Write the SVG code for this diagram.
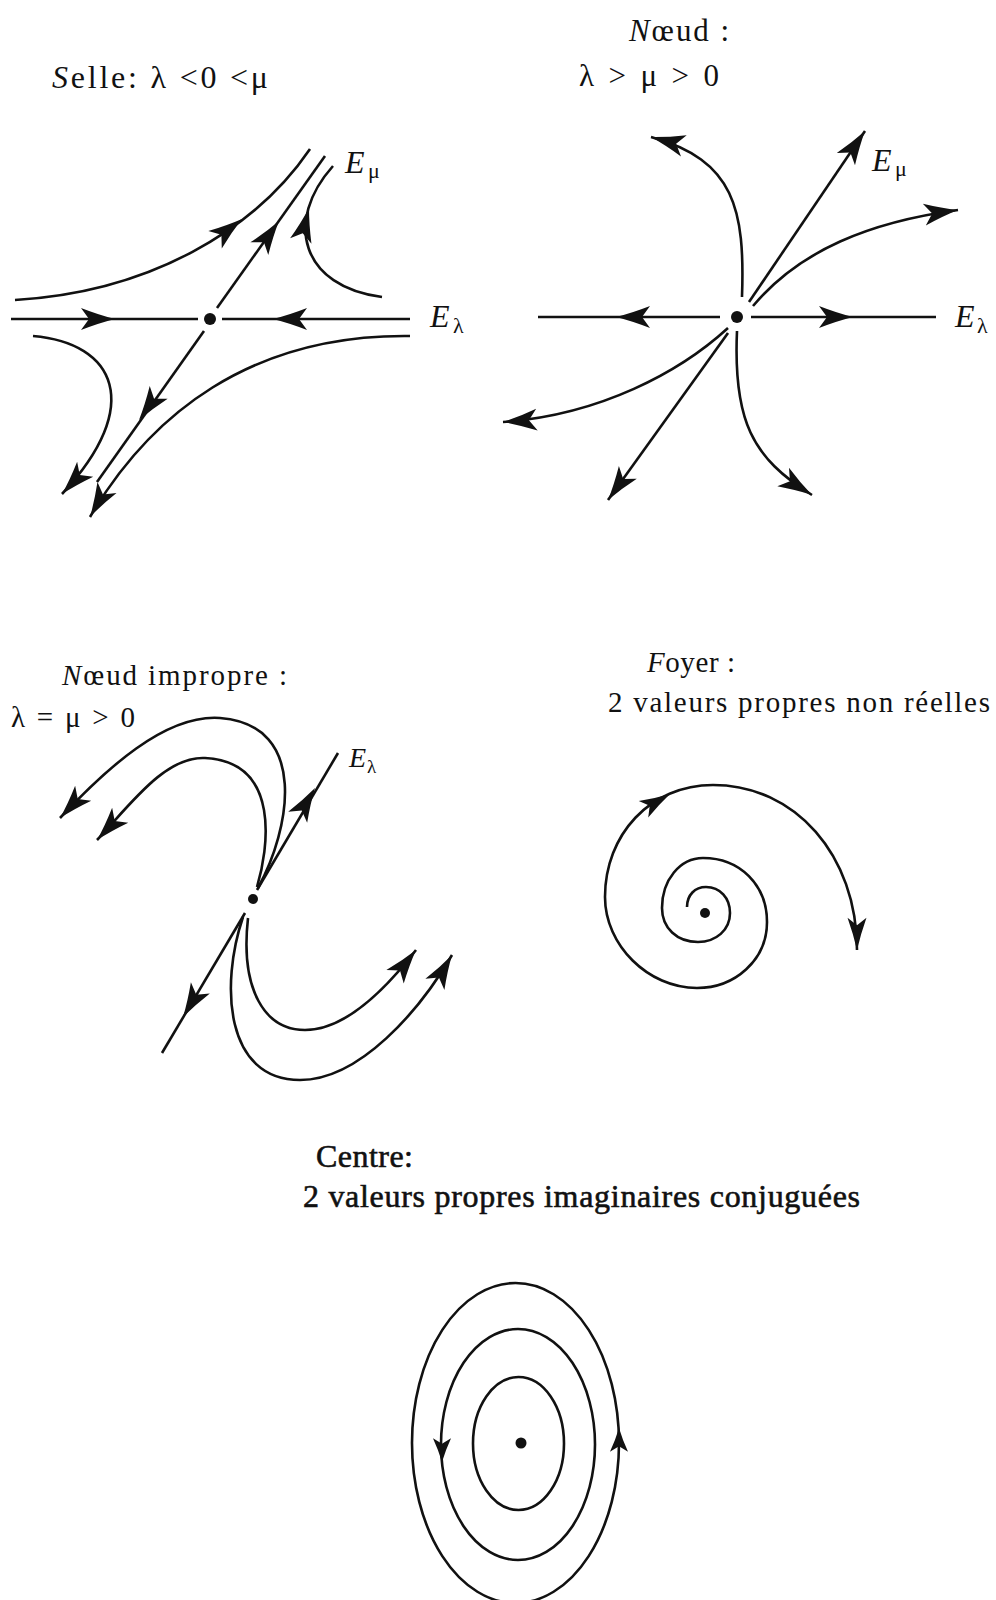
<svg xmlns="http://www.w3.org/2000/svg" xmlns:xlink="http://www.w3.org/1999/xlink" width="996" height="1600" viewBox="0 0 996 1600">
<style>
.ln{fill:none;stroke:#111;stroke-width:2.6}
.ah{fill:#111;stroke:none}
.dot{fill:#111}
.t{font-family:"Liberation Serif","Times New Roman",serif;fill:#111}
.it{font-style:italic}
.bd{stroke:#111;stroke-width:0.6}
</style>
<defs>
<path id="ah" d="M0,0 Q-16,-4 -34,-11 L-26,0 L-34,11 Q-16,4 0,0 Z"/>
</defs>
<rect width="996" height="1600" fill="#fff"/>

<g id="selle">
<text class="t" font-size="32" x="52" y="88" textLength="216" lengthAdjust="spacing"><tspan class="it">S</tspan>elle: λ &lt;0 &lt;μ</text>
<text class="t" y="173"><tspan x="345" class="it" font-size="32">E</tspan><tspan x="368" y="178" font-size="22">μ</tspan></text>
<text class="t" y="327"><tspan x="430" class="it" font-size="32">E</tspan><tspan x="453" y="333" font-size="22">λ</tspan></text>
<g class="ln">
<line x1="11" y1="319" x2="198" y2="319"/>
<line x1="222" y1="319" x2="410" y2="319"/>
<line x1="217" y1="308" x2="325" y2="156"/>
<line x1="204" y1="331" x2="97" y2="482"/>
<path d="M15,300 C150,292 255,230 310,149"/>
<path d="M382,297 C302,287 283,222 333,166"/>
<path d="M33,336 C115,343 145,405 62,494"/>
<path d="M410,336 C250,334 150,415 90,517"/>
</g>
<g class="ah">
<use xlink:href="#ah" transform="translate(115,319)"/>
<use xlink:href="#ah" transform="translate(273,319) rotate(180)"/>
<use xlink:href="#ah" transform="translate(279,221) rotate(-54.6)"/>
<use xlink:href="#ah" transform="translate(139,420) rotate(125.4)"/>
<use xlink:href="#ah" transform="translate(242,219) rotate(-37.6)"/>
<use xlink:href="#ah" transform="translate(309,208) rotate(-76)"/>
<use xlink:href="#ah" transform="translate(62,494) rotate(133)"/>
<use xlink:href="#ah" transform="translate(90,517) rotate(120)"/>
</g>
<circle class="dot" cx="210" cy="319" r="6"/>
</g>

<g id="noeud">
<text class="t" font-size="31" x="629" y="41" textLength="100" lengthAdjust="spacing"><tspan class="it">N</tspan>œud :</text>
<text class="t" font-size="31" x="579" y="86" textLength="140" lengthAdjust="spacing">λ &gt; μ &gt; 0</text>
<text class="t" y="171"><tspan x="872" class="it" font-size="32">E</tspan><tspan x="895" y="176" font-size="22">μ</tspan></text>
<text class="t" y="327"><tspan x="955" class="it" font-size="32">E</tspan><tspan x="977" y="333" font-size="22">λ</tspan></text>
<g class="ln">
<line x1="538" y1="317" x2="720" y2="317"/>
<line x1="751" y1="317" x2="936" y2="317"/>
<line x1="749" y1="302" x2="865" y2="131"/>
<line x1="728" y1="333" x2="608" y2="500"/>
<path d="M742,297 C745,210 735,160 651,137"/>
<path d="M753,306 C800,250 870,222 958,210"/>
<path d="M728,328 C680,372 600,415 503,422"/>
<path d="M737,331 C733,420 752,458 812,495"/>
</g>
<g class="ah">
<use xlink:href="#ah" transform="translate(616,317) rotate(180)"/>
<use xlink:href="#ah" transform="translate(853,317)"/>
<use xlink:href="#ah" transform="translate(865,131) rotate(-55.8)"/>
<use xlink:href="#ah" transform="translate(608,500) rotate(125.7)"/>
<use xlink:href="#ah" transform="translate(651,137) rotate(-165)"/>
<use xlink:href="#ah" transform="translate(958,210) rotate(-7.8)"/>
<use xlink:href="#ah" transform="translate(503,422) rotate(176)"/>
<use xlink:href="#ah" transform="translate(812,495) rotate(32)"/>
</g>
<circle class="dot" cx="737" cy="317" r="6"/>
</g>

<g id="noeud-impropre">
<text class="t" font-size="29" x="62" y="685" textLength="225" lengthAdjust="spacing"><tspan class="it">N</tspan>œud impropre :</text>
<text class="t" font-size="29" x="11" y="727" textLength="124" lengthAdjust="spacing">λ = μ &gt; 0</text>
<text class="t" y="767"><tspan x="349" class="it" font-size="28">E</tspan><tspan x="367" y="773" font-size="19">λ</tspan></text>
<g class="ln">
<line x1="257" y1="890" x2="338" y2="753"/>
<line x1="245" y1="913" x2="162" y2="1053"/>
<path d="M258,888 C290,830 310,725 220,718 C165,714 105,770 60,818"/>
<path d="M257,887 C268,850 282,762 205,758 C165,756 130,805 97,840"/>
<path d="M248,918 C240,990 265,1030 305,1030 C345,1030 385,990 416,950"/>
<path d="M243,917 C220,985 225,1080 300,1080 C360,1080 420,1010 452,955"/>
</g>
<g class="ah">
<use xlink:href="#ah" transform="translate(315,788) rotate(-59.4)"/>
<use xlink:href="#ah" transform="translate(183,1017) rotate(120.7)"/>
<use xlink:href="#ah" transform="translate(60,818) rotate(133)"/>
<use xlink:href="#ah" transform="translate(97,840) rotate(133)"/>
<use xlink:href="#ah" transform="translate(416,950) rotate(-52)"/>
<use xlink:href="#ah" transform="translate(452,955) rotate(-59.8)"/>
</g>
<circle class="dot" cx="253" cy="899" r="5"/>
</g>

<g id="foyer">
<text class="t" font-size="29" x="647" y="672" textLength="88" lengthAdjust="spacing"><tspan class="it">F</tspan>oyer :</text>
<text class="t" font-size="29" x="608" y="712" textLength="382" lengthAdjust="spacing">2 valeurs propres non réelles</text>
<path class="ln" d="M687,907 C687,895 695,887 706,887 C720,887 730,898 730,913 C730,930 716,942 698,942 C677,942 662,928 662,908 C662,880 680,858 703,858 C740,858 767,885 767,922 C767,960 735,988 697,988 C648,988 605,945 605,897 C605,835 650,785 713,785 C795,785 857,855 857,950"/>
<g class="ah">
<use xlink:href="#ah" transform="translate(857,950) rotate(90) scale(0.95,0.86)"/>
<use xlink:href="#ah" transform="translate(670,794) rotate(-30) scale(0.9,0.86)"/>
</g>
<circle class="dot" cx="705" cy="913" r="5"/>
</g>

<g id="centre">
<text class="t bd" font-size="32" x="316" y="1167" textLength="97" lengthAdjust="spacing">Centre:</text>
<text class="t bd" font-size="32" x="303" y="1207" textLength="557" lengthAdjust="spacing">2 valeurs propres imaginaires conjuguées</text>
<g class="ln">
<ellipse cx="518.5" cy="1443.5" rx="45.5" ry="66.5"/>
<ellipse cx="518" cy="1444.5" rx="77" ry="115.5"/>
<ellipse cx="515.5" cy="1443" rx="103.5" ry="160"/>
</g>
<g class="ah">
<use xlink:href="#ah" transform="translate(442,1462) rotate(90) scale(0.7,0.82)"/>
<use xlink:href="#ah" transform="translate(619,1428) rotate(-90) scale(0.7,0.82)"/>
</g>
<circle class="dot" cx="521" cy="1443" r="5.5"/>
</g>
</svg>
